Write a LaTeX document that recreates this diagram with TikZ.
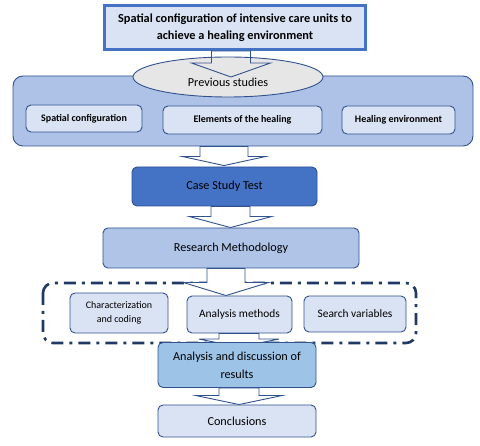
\documentclass[tikz,border=0pt]{standalone}
\usepackage{fontspec}
\setmainfont{Carlito}
\usetikzlibrary{calc,shapes.geometric}
\pgfdeclarelayer{back}
\pgfdeclarelayer{arrows}
\pgfsetlayers{back,arrows,main}
\definecolor{edge}{HTML}{2F528F}
\definecolor{titleedge}{HTML}{4472C4}
\definecolor{paleblue}{HTML}{DAE3F3}
\definecolor{panelblue}{HTML}{AEC2E7}
\definecolor{midblue}{HTML}{4472C4}
\definecolor{resblue}{HTML}{B0C4E8}
\definecolor{skyblue}{HTML}{9DC3E6}
\definecolor{grayfill}{HTML}{E7E6E6}
\definecolor{navy}{HTML}{1F3864}
\newcommand{\blockarr}[7][white]{% fill, x center, start, tip, shaft half, head half, head length
  \draw[edge, line width=0.9pt, fill=#1, line join=miter]
    let \p1=#3, \p2=#4 in
    ({#2pt-#5pt},\y1) -- ({#2pt-#5pt},{\y2+#7pt}) -- ({#2pt-#6pt},{\y2+#7pt})
    -- (#2pt,\y2) -- ({#2pt+#6pt},{\y2+#7pt}) -- ({#2pt+#5pt},{\y2+#7pt})
    -- ({#2pt+#5pt},\y1) -- cycle;}
\tikzset{
  box/.style={draw=edge, line width=0.9pt, rounded corners=5pt, align=center, inner sep=1pt},
  smallbold/.style={box, fill=paleblue, font=\fontsize{10}{12}\selectfont\bfseries},
  mid/.style={box, fill=paleblue, font=\fontsize{11.4}{14}\selectfont},
  big/.style={box, font=\fontsize{12.2}{18}\selectfont},
}
\begin{document}
\begin{tikzpicture}[x=1pt,y=-1pt]
\useasboundingbox (0,0) rectangle (480,446);
% title
\node[draw=titleedge, line width=3pt, fill=paleblue, minimum width=261pt, minimum height=44pt,
      align=center, inner sep=1pt, font=\fontsize{12.3}{17.5}\selectfont\bfseries]
  (title) at (235,27.5) {Spatial configuration of intensive care units to\\achieve a healing environment};
% panel
\node[draw=edge, line width=0.9pt, fill=panelblue, rounded corners=10pt,
      minimum width=460pt, minimum height=70pt] (panel) at (243,111) {};
\node[draw=edge, line width=0.9pt, fill=grayfill, ellipse, minimum width=190pt, minimum height=40pt] (ps) at (228,77) {};
\node[font=\fontsize{12.2}{14}\selectfont] (pslabel) at (228,82) {Previous studies};
\blockarr[none]{231}{(title.south)}{(ps.center)}{19.5}{39.5}{14}
\node[smallbold, minimum width=116pt, minimum height=27pt] (b1) at (84,118.5) {Spatial configuration};
\node[smallbold, minimum width=159pt, minimum height=28pt] (b2) at (242.5,120) {Elements of the healing};
\node[smallbold, minimum width=113pt, minimum height=28pt] (b3) at (398.5,120) {Healing environment};
% case study and methodology
\node[big, fill=midblue, minimum width=185pt, minimum height=39pt] (case) at (224.5,186.5) {Case Study Test};
\node[big, fill=resblue, minimum width=256pt, minimum height=40pt] (res) at (231,248) {Research Methodology};
% dash-dot frame
\begin{pgfonlayer}{back}
\draw[navy, line width=2.6pt, rounded corners=10pt, dash pattern=on 12pt off 6pt on 3pt off 6pt]
  (43,283) rectangle (416,343);
\end{pgfonlayer}
\node[mid, minimum width=98pt, minimum height=40pt, font=\fontsize{10}{14.5}\selectfont]
  (c1) at (119,313) {Characterization\\and coding};
\node[mid, minimum width=105pt, minimum height=37pt] (c2) at (239.5,314.5) {Analysis methods};
\node[mid, minimum width=102pt, minimum height=36pt] (c3) at (355,314) {Search variables};
\node[big, fill=skyblue, minimum width=158pt, minimum height=45pt] (ad) at (237,365) {Analysis and discussion of\\results};
\node[big, fill=paleblue, minimum width=158pt, minimum height=32pt] (concl) at (237,421) {Conclusions};
% block arrows
\begin{pgfonlayer}{arrows}
\blockarr{224}{(panel.south)}{($(case.north)+(0,-1)$)}{24}{41.5}{9}
\blockarr{230.5}{(case.south)}{(res.north)}{19.5}{41}{11}
\blockarr{226}{(res.south)}{(c2.north)}{19}{42.5}{13}
\blockarr{239}{(c2.south)}{($(ad.north)+(0,5)$)}{20}{40}{8}
\blockarr{239}{(ad.south)}{(concl.north)}{20}{43}{9}
\end{pgfonlayer}
\end{tikzpicture}
\end{document}
